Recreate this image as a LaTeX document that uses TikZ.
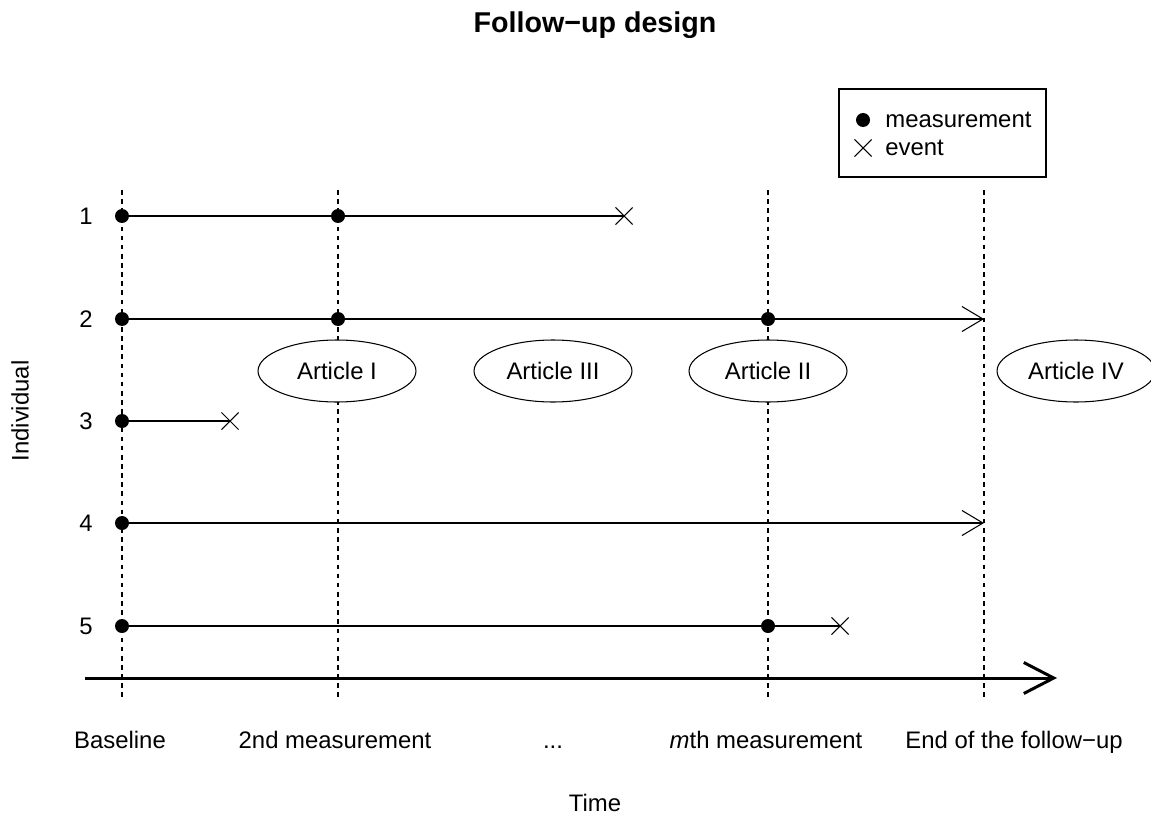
\documentclass[tikz,border=0pt]{standalone}
\usepackage{fontspec}
\setmainfont{Liberation Sans}
\usetikzlibrary{arrows.meta,shapes.geometric,shapes.misc}
\tikzset{ %sizes are in pixels of the plot
  {meas point/.style} ={circle,fill=black,inner sep=0,minimum size=2.8mm},
  {event point/.style} ={cross out,draw,line width=0.6pt,inner sep=0,
                         minimum size=3.2mm},
  {follow line/.style} ={draw,line width=0.6pt},
  {end arrow/.style} ={follow line,-{Straight Barb[length=4.2mm,width=5mm]}},
  {time arrow/.style} ={draw,line width=1.7pt,
                        -{Straight Barb[length=6mm,width=6.2mm]}},
  {visit line/.style} ={draw,line width=0.6pt,dash pattern=on 2.6pt off 2.6pt},
  {article/.style} ={ellipse,draw,fill=white,line width=0.6pt,
                     minimum width=31.6mm,minimum height=12.4mm,inner sep=0},
  {txt/.style} ={font=\fontsize{13.6}{16}\selectfont,inner sep=0},
  >=latex,
}

\begin{document}
\begin{tikzpicture}[x=0.02cm,y=-0.02cm]
\clip (0,0) rectangle (1151,814);

\node[txt,font=\fontsize{16.3}{19}\selectfont\bfseries,anchor=base] (title) at (595,33) {Follow−up design};

% measurement times
\foreach \name/\x in {base/122,second/338,mth/768,fend/984}{
  \coordinate (\name top) at (\x,190);
  \coordinate (\name bot) at (\x,697);
  \draw[visit line] (\name top) -- (\name bot);
}

% time axis
\coordinate (t0) at (85,678);
\coordinate (t1) at (1057,678);
\draw[time arrow] (t0) -- (t1);

% articles
\node[article,txt] (art1) at (337,371) {Article I};
\node[article,txt] (art3) at (553,371) {Article III};
\node[article,txt] (art2) at (768,371) {Article II};
\node[article,txt] (art4) at (1076,371) {Article IV};

% individuals
\node[txt] (n1) at (86,216) {1};
\node[txt] (n2) at (86,319) {2};
\node[txt] (n3) at (86,421) {3};
\node[txt] (n4) at (86,523) {4};
\node[txt] (n5) at (86,626) {5};

\node[meas point] (b1) at (122,216) {};
\node[meas point] (m1) at (338,216) {};
\node[event point] (e1) at (624,216) {};
\draw[follow line] (b1) -- (m1) -- (e1.center);

\node[meas point] (b2) at (122,319) {};
\node[meas point] (s2) at (338,319) {};
\node[meas point] (m2) at (768,319) {};
\coordinate (f2) at (984,319);
\draw[follow line] (b2) -- (s2) -- (m2);
\draw[end arrow] (m2) -- (f2);

\node[meas point] (b3) at (122,421) {};
\node[event point] (e3) at (230,421) {};
\draw[follow line] (b3) -- (e3.center);

\node[meas point] (b4) at (122,523) {};
\coordinate (f4) at (984,523);
\draw[end arrow] (b4) -- (f4);

\node[meas point] (b5) at (122,626) {};
\node[meas point] (m5) at (768,626) {};
\node[event point] (e5) at (840,626) {};
\draw[follow line] (b5) -- (m5) -- (e5.center);

% time labels
\node[txt,anchor=base] (lbase) at (120,748) {Baseline};
\node[txt,anchor=base] (lsecond) at (335,748) {2nd measurement};
\node[txt,anchor=base] (ldots) at (553,748) {...};
\node[txt,anchor=base] (lmth) at (766,748) {\textit{m}th measurement};
\node[txt,anchor=base] (lend) at (1014,748) {End of the follow−up};

\node[txt,anchor=base] (xlab) at (595,811) {Time};
\node[txt,rotate=90] (ylab) at (20,411) {Individual};

% legend
\draw[line width=0.6pt] (839,89) rectangle (1046,177);
\node[meas point] (lgdot) at (863,120) {};
\node[event point] (lgx) at (863,148) {};
\node[txt,anchor=west] (lgm) at (885,120) {measurement};
\node[txt,anchor=west] (lge) at (885,148) {event};
\end{tikzpicture}
\end{document}
